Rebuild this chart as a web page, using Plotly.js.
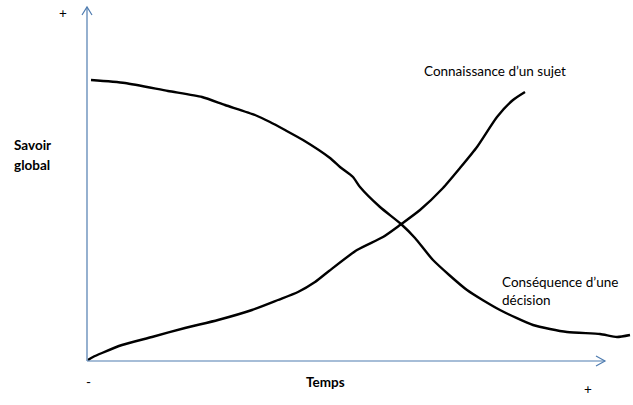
<!DOCTYPE html>
<html>
<head>
<meta charset="utf-8">
<script src="https://cdn.plot.ly/plotly-3.0.1.min.js"></script>
<style>html,body{margin:0;padding:0;background:#fff;}#chart{width:633px;height:405px;}</style>
</head>
<body>
<div id="chart"></div>
<script>
// Values (arbitrary units: time on x, global knowledge on y)
const consequenceX = [4, 38, 81, 115, 138, 168, 183, 198, 216, 243, 253, 266, 273, 293, 314, 328, 346, 380, 413, 446, 480, 513, 530, 543];
const consequenceY = [281, 278, 270, 264, 256, 246, 239, 231, 221, 203, 194, 184, 174, 154, 137, 123, 101, 71, 51, 36, 29, 27, 24, 26];
const connaissanceX = [1, 6, 15, 35, 65, 98, 131, 165, 191, 211, 228, 242, 270, 296, 313, 333, 356, 373, 390, 410, 426, 438];
const connaissanceY = [1, 4, 8, 16, 24, 33, 41, 51, 61, 69, 79, 90, 111, 124, 136, 151, 173, 193, 214, 244, 261, 269];
const seriesLabels = ["Connaissance d’un sujet", "Conséquence d’une<br>décision"];
const axisLabels = {y: ["Savoir", "global"], x: "Temps", plus: "+", minus: "-"};
const axisEnd = {x: 518, y: 354};

const font = "Lato, 'Open Sans', sans-serif";
const axisColor = "#4f7cb0";

const traces = [
  {x: consequenceX, y: consequenceY, mode: "lines", line: {color: "#000", width: 2.4, shape: "spline", smoothing: 0.6}, hoverinfo: "skip"},
  {x: connaissanceX, y: connaissanceY, mode: "lines", line: {color: "#000", width: 2.4, shape: "spline", smoothing: 0.6}, hoverinfo: "skip"}
];

const shapes = [
  {type: "line", x0: 0, y0: 0, x1: 0, y1: axisEnd.y, line: {color: axisColor, width: 1.2}},
  {type: "line", x0: 0, y0: 0, x1: axisEnd.x, y1: 0, line: {color: axisColor, width: 1.2}},
  {type: "path", path: `M -5 ${axisEnd.y - 8} L 0 ${axisEnd.y} L 5 ${axisEnd.y - 8}`, line: {color: axisColor, width: 1.2}},
  {type: "path", path: `M ${axisEnd.x - 9} 5 L ${axisEnd.x} 0 L ${axisEnd.x - 9} -5`, line: {color: axisColor, width: 1.2}}
];

function ann(x, y, text, opts) {
  return Object.assign({x: x, y: y, xref: "x", yref: "y", text: text, showarrow: false,
    xanchor: "left", yanchor: "middle", font: {family: font, size: 13.5, color: "#000"}}, opts || {});
}

const annotations = [
  ann(-75, 216, "<b>" + axisLabels.y[0] + "</b>"),
  ann(-75, 196, "<b>" + axisLabels.y[1] + "</b>"),
  ann(-24, 348, axisLabels.plus, {xanchor: "center"}),
  ann(1, -21, axisLabels.minus, {xanchor: "center"}),
  ann(238, -21, "<b>" + axisLabels.x + "</b>", {xanchor: "center"}),
  ann(501, -28, axisLabels.plus, {xanchor: "center"}),
  ann(335, 290, seriesLabels[0]),
  ann(413, 70, seriesLabels[1], {align: "left"})
];

const layout = {
  width: 633, height: 405,
  margin: {l: 0, r: 0, t: 0, b: 0, pad: 0},
  paper_bgcolor: "#fff", plot_bgcolor: "#fff",
  showlegend: false,
  xaxis: {range: [-87, 546], visible: false, fixedrange: true},
  yaxis: {range: [-44, 361], visible: false, fixedrange: true},
  shapes: shapes,
  annotations: annotations
};

Plotly.newPlot("chart", traces, layout, {staticPlot: true, displayModeBar: false});
</script>
</body>
</html>
